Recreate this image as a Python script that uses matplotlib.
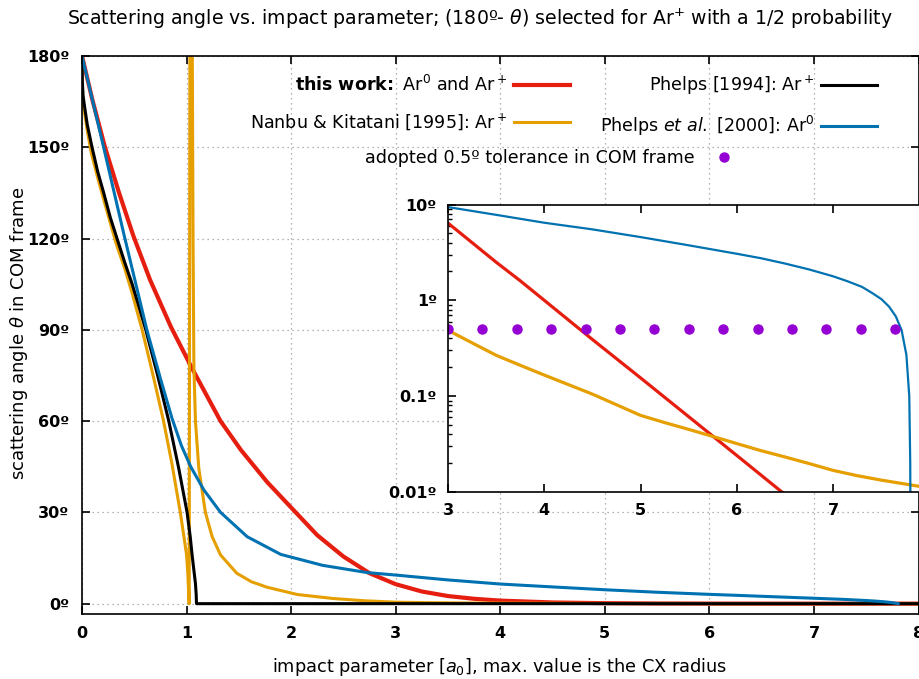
import numpy as np
import matplotlib
matplotlib.use("Agg")
import matplotlib.pyplot as plt
from matplotlib.ticker import FixedLocator, FixedFormatter, LogLocator, NullFormatter

plt.rcParams['font.family'] = ['DejaVu Sans']
plt.rcParams['mathtext.fontset'] = 'dejavusans'

# ---------------- data ----------------
# this work: Ar0 and Ar+  (red)
b_red = [0, 0.1, 0.22, 0.35, 0.49, 0.65, 0.85, 1.05, 1.325, 1.52, 1.77, 2.03,
         2.25, 2.5, 2.75, 3.0, 3.25, 3.5, 3.75, 4.0, 4.5, 5.0, 5.5, 6.0, 6.5,
         7.0, 7.5, 8.0]
th_red = [180, 165.5, 150, 135.5, 121, 106.5, 91, 77.5, 60, 50.5, 40, 30.5,
          22.5, 15.5, 10.0, 6.4, 4.0, 2.5, 1.6, 1.0, 0.39, 0.155, 0.061, 0.024, 0.0094,
          0.0037, 0.0015, 0.0006]

# Nanbu & Kitatani [1995]: Ar+  (orange)
b_nk = [0, 0.003, 0.01, 0.022, 0.05, 0.09, 0.15, 0.21, 0.28, 0.33, 0.41, 0.48,
        0.575, 0.68, 0.78, 0.86, 0.94, 0.975, 1.0, 1.012, 1.02, 1.025,
        1.032, 1.055, 1.062, 1.07, 1.085, 1.117, 1.18, 1.245, 1.325, 1.48, 1.62,
        1.77, 2.06, 2.4, 2.7, 3.0, 3.25, 3.5, 3.75, 4.0, 4.5, 5.0, 5.25, 5.5,
        5.75, 6.0, 6.25, 6.5, 6.75, 7.0, 7.25, 7.5, 7.75, 8.0]
th_nk = [180, 170, 165, 162, 155.5, 148, 140, 132.5, 124, 118, 110, 102,
         90, 75, 60, 46, 30, 22, 16, 10, 4, 0,
         180, 180, 120, 78, 60, 44.5, 30, 22, 16, 10, 7.2,
         5.4, 3.0, 1.7, 0.95, 0.487, 0.36, 0.267, 0.21, 0.166, 0.105, 0.063, 0.053, 0.045,
         0.038, 0.032, 0.027, 0.0232, 0.0198, 0.0168, 0.0148, 0.0133, 0.0121, 0.011]

# Phelps [1994]: Ar+  (black)
b_p94 = [0, 0.003, 0.01, 0.022, 0.05, 0.096, 0.15, 0.21, 0.27, 0.335, 0.41, 0.48,
         0.55, 0.61, 0.72, 0.83, 0.925, 1.005, 1.035, 1.053, 1.07, 1.085, 1.092,
         1.095, 8.0]
th_p94 = [180, 172, 167, 164, 157.5, 150, 142, 134.7, 127, 120, 112, 105,
          97, 90, 75.5, 60, 44.5, 30, 22, 16, 11, 6.6, 3,
          0, 0]

# Phelps et al. [2000]: Ar0  (blue)
b_p00 = [0, 0.2, 0.4, 0.62, 0.75, 0.86, 0.95, 1.04, 1.165, 1.325, 1.58, 1.9,
         2.3, 2.73, 3.0, 3.5, 4.0, 4.5, 5.0, 5.5, 6.0, 6.25, 6.5, 6.75, 7.0,
         7.15, 7.3, 7.4, 7.5, 7.58, 7.65, 7.71, 7.76, 7.79, 7.80, 7.805]
th_p00 = [180, 151, 121.5, 90, 74, 61, 52, 45, 37.4, 30, 22, 16.2,
          12.6, 10.2, 9.4, 7.8, 6.45, 5.5, 4.57, 3.75, 3.06, 2.75, 2.42, 2.1, 1.78,
          1.58, 1.38, 1.2, 1.03, 0.86, 0.68, 0.49, 0.27, 0.1, 0.02, 0.001]

# adopted 0.5 deg tolerance (purple dots, inset)
b_tol = [3.0, 3.357, 3.714, 4.071, 4.429, 4.786, 5.143, 5.5, 5.857, 6.214,
         6.571, 6.929, 7.286, 7.643]
th_tol = [0.5] * len(b_tol)

main_xticks = [0, 1, 2, 3, 4, 5, 6, 7, 8]
main_yticks = [0, 30, 60, 90, 120, 150, 180]
inset_xticks = [3, 4, 5, 6, 7]
inset_yticks = [0.01, 0.1, 1, 10]
inset_ylabels = ['0.01º', '0.1º', '1º', '10º']

C_RED = '#e51e10'
C_ORG = '#e69f00'
C_BLK = '#000000'
C_BLU = '#0072b2'
C_PUR = '#9400d3'

W, H = 920, 679
fig = plt.figure(figsize=(W / 100, H / 100), dpi=100)

# ---------------- main axes ----------------
ax = fig.add_axes([82 / W, 1 - 614 / H, (918.5 - 82) / W, (614 - 56) / H])
ax.plot(b_red, th_red, color=C_RED, lw=3.0,
        label=r'$\mathbf{this\ work\!:}$ Ar$^0$ and Ar$^+$')
ax.plot(b_nk, th_nk, color=C_ORG, lw=2.2, label=r'Nanbu & Kitatani [1995]: Ar$^+$')
ax.plot(b_p94, th_p94, color=C_BLK, lw=2.2, label=r'Phelps [1994]: Ar$^+$')
ax.plot(b_p00, th_p00, color=C_BLU, lw=2.2, label=r'Phelps $\mathit{et\ al.}$ [2000]: Ar$^0$')

ax.set_xlim(0, 8)
ax.set_ylim(-3.4, 180)
ax.set_xticks(main_xticks)
ax.set_xticklabels([str(t) for t in main_xticks])
ax.set_yticks(main_yticks)
ax.set_yticklabels([f'{t}º' for t in main_yticks])
ax.tick_params(direction='in', length=6, width=1.2, top=True, right=True,
               labelsize=11.5, pad=9)
for lab in ax.get_xticklabels() + ax.get_yticklabels():
    lab.set_fontweight('bold')
for sp in ax.spines.values():
    sp.set_linewidth(1.2)
ax.grid(True, color='#9a9a9a', lw=0.9, ls=(0, (1, 3)))

h, l = ax.get_legend_handles_labels()
leg1 = ax.legend(h, l, ncol=2, markerfirst=False, frameon=False,
                 loc='upper right', bbox_to_anchor=((877 - 82) / 836, (614 - 74) / 558),
                 borderaxespad=0, borderpad=0, fontsize=12.6, handlelength=3.2,
                 handletextpad=0.4, labelspacing=0.95, columnspacing=1.7)
ax.add_artist(leg1)
dot_handle = plt.Line2D([], [], ls='none', marker='o', ms=6.5, color=C_PUR)
leg2 = ax.legend([dot_handle], ['adopted 0.5º tolerance in COM frame'],
                 markerfirst=False, frameon=False, loc='upper right', numpoints=1,
                 bbox_to_anchor=((745 - 82) / 836, (614 - 149) / 558),
                 borderaxespad=0, borderpad=0, fontsize=12.6, handlelength=2.4,
                 handletextpad=0.5)

# ---------------- inset ----------------
axi = fig.add_axes([448 / W, 1 - 492 / H, (929.5 - 448) / W, (492 - 204.5) / H])
axi.set_zorder(5)
axi.set_facecolor('white')
axi.plot(b_red, th_red, color=C_RED, lw=2.3)
axi.plot(b_nk, th_nk, color=C_ORG, lw=2.3)
axi.plot(b_p00, th_p00, color=C_BLU, lw=1.6)
axi.plot(b_tol, th_tol, ls='none', marker='o', ms=6.5, color=C_PUR)
axi.set_yscale('log')
axi.set_xlim(3, 8)
axi.set_ylim(0.01, 10)
axi.xaxis.set_major_locator(FixedLocator(inset_xticks))
axi.set_xticklabels([str(t) for t in inset_xticks])
axi.yaxis.set_major_locator(FixedLocator(inset_yticks))
axi.yaxis.set_major_formatter(FixedFormatter(inset_ylabels))
axi.yaxis.set_minor_locator(LogLocator(base=10, subs=np.arange(2, 10)))
axi.yaxis.set_minor_formatter(NullFormatter())
axi.tick_params(which='major', direction='in', length=6, width=1.2, top=True,
                right=True, labelsize=11.5, pad=8)
axi.tick_params(which='minor', direction='in', length=3, width=1.0, right=True)
for lab in axi.get_xticklabels() + axi.get_yticklabels():
    lab.set_fontweight('bold')
for sp in axi.spines.values():
    sp.set_linewidth(1.2)

# ---------------- texts ----------------
fig.text(480 / W, 1 - 19 / H,
         r'Scattering angle vs. impact parameter; (180º- $\theta$) selected for Ar$^{+}$ with a 1/2 probability',
         ha='center', va='center', fontsize=13.6)
fig.text(19 / W, 1 - 333 / H, r'scattering angle $\theta$ in COM frame',
         rotation=90, ha='center', va='center', fontsize=13)
fig.text(500 / W, 1 - 667 / H, r'impact parameter [$a_0$], max. value is the CX radius',
         ha='center', va='center', fontsize=12.8)

fig.savefig('out.png', dpi=100)
